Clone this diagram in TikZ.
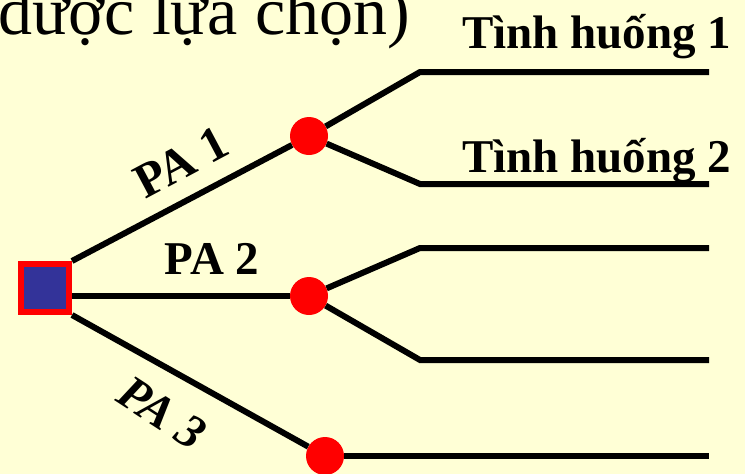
\documentclass[tikz,border=0pt]{standalone}
\usepackage{fontspec}
\setmainfont{Liberation Serif}

\definecolor{paleyellow}{RGB}{255,255,214}
\definecolor{pptblue}{RGB}{51,51,153}

\begin{document}
\begin{tikzpicture}[x=1pt,y=-1pt,
  branch/.style={line width=6pt},
  decision/.style={draw=red,fill=pptblue,line width=6pt,minimum size=48pt,inner sep=0pt},
  chance/.style={circle,fill=red,minimum size=38pt,inner sep=0pt},
  lbl/.style={font=\fontsize{47}{56}\selectfont\bfseries,inner sep=0pt}]

% Background and page size
\fill[paleyellow] (0,0) rectangle (745,474);
\useasboundingbox (0,0) rectangle (745,474);

% Define column positions for the branch ends
\def\cola{420}
\def\colb{709}

% Tail of the heading line
\node[anchor=base east, font=\fontsize{68}{76}\selectfont, inner sep=0pt] (head) at (410,34) {được lựa chọn)};

% Decision node and chance nodes
\node[decision] (root) at (45,288) {};
\node[chance] (c1) at (309,136) {};
\node[chance] (c2) at (309,296) {};
\node[chance] (c3) at (325,456) {};

% Knees and ends of the outcome lines
\coordinate (j1) at (\cola,72);
\coordinate (j2) at (\cola,184);
\coordinate (j3) at (\cola,248);
\coordinate (j4) at (\cola,360);
\coordinate (e1) at (\colb,72);
\coordinate (e2) at (\colb,184);
\coordinate (e3) at (\colb,248);
\coordinate (e4) at (\colb,360);
\coordinate (e5) at (\colb,456);

% Alternatives
\draw[branch] (root.north east) -- (c1);
\draw[branch] (root.east |- c2) -- (c2);
\draw[branch] (root.south east) -- (c3);

% Outcomes
\draw[branch] (c1) -- (j1) -- (e1);
\draw[branch] (c1) -- (j2) -- (e2);
\draw[branch] (c2) -- (j3) -- (e3);
\draw[branch] (c2) -- (j4) -- (e4);
\draw[branch] (c3) -- (e5);

% Labels
\node[lbl, font=\fontsize{49}{56}\selectfont\bfseries, rotate=28] (pa1) at (181,162) {PA 1};
\node[lbl] (pa2) at (212,259) {PA 2};
\node[lbl, font=\fontsize{48}{56}\selectfont\bfseries\itshape, rotate=-33] (pa3) at (162,413) {PA 3};
\node[lbl, anchor=base west] (s1) at (462,48) {Tình huống 1};
\node[lbl, anchor=base west] (s2) at (462,172) {Tình huống 2};

\end{tikzpicture}
\end{document}
